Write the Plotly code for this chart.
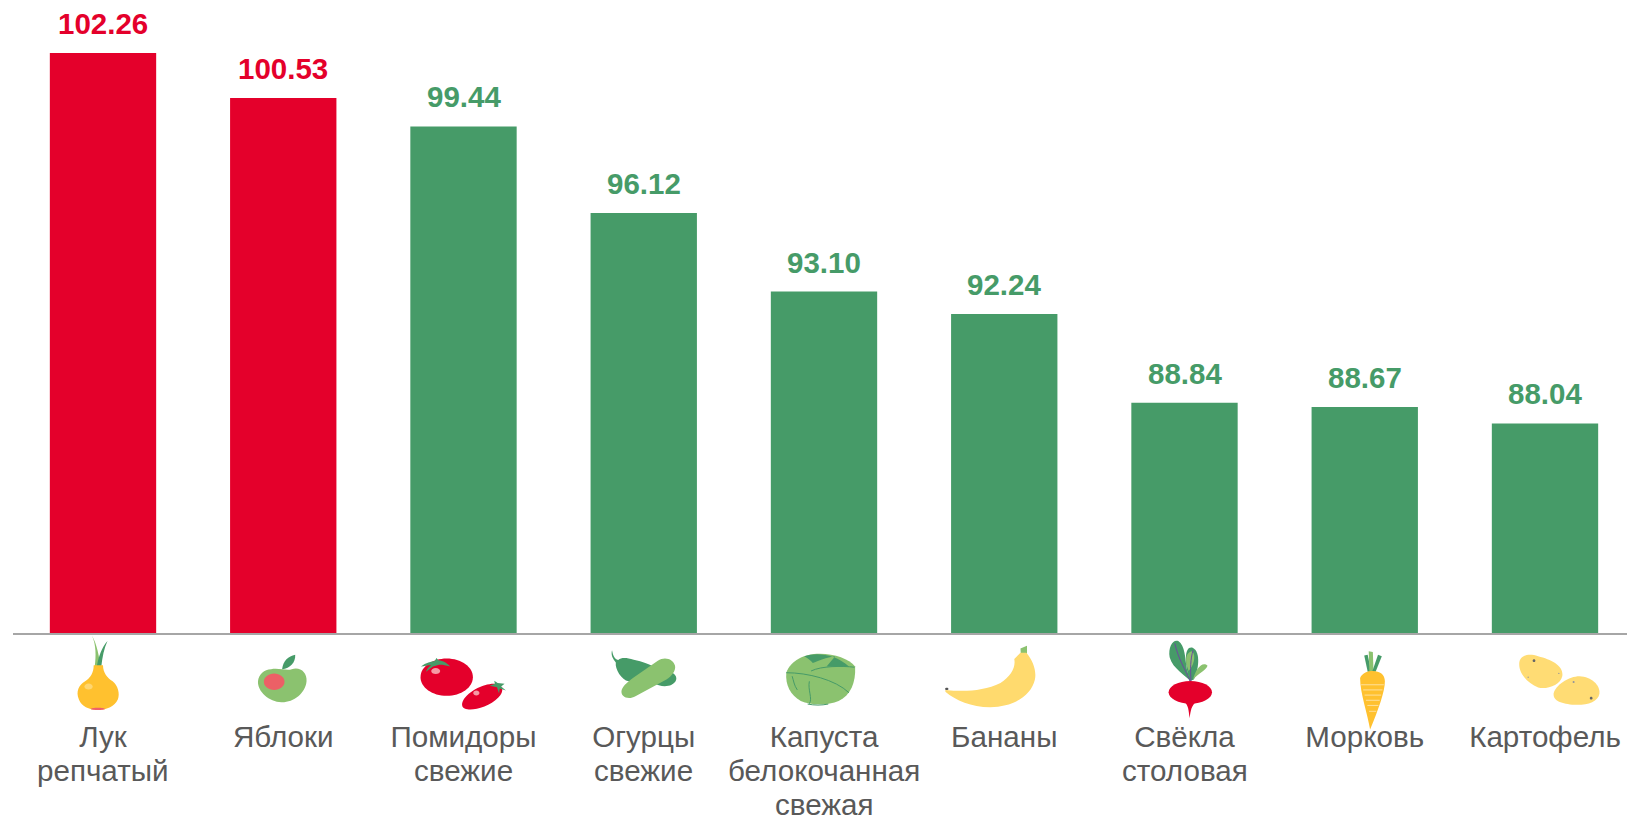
import re
import plotly.graph_objects as go

categories = ["Лук репчатый", "Яблоки", "Помидоры свежие", "Огурцы свежие",
              "Капуста белокочанная свежая", "Бананы", "Свёкла столовая", "Морковь", "Картофель"]
label_lines = [["Лук", "репчатый"], ["Яблоки"], ["Помидоры", "свежие"], ["Огурцы", "свежие"],
               ["Капуста", "белокочанная", "свежая"], ["Бананы"], ["Свёкла", "столовая"], ["Морковь"], ["Картофель"]]
values = [102.26, 100.53, 99.44, 96.12, 93.10, 92.24, 88.84, 88.67, 88.04]
value_labels = ["102.26", "100.53", "99.44", "96.12", "93.10", "92.24", "88.84", "88.67", "88.04"]
RED, GREEN, LIGHT, YEL, POT = "#E4002B", "#469B68", "#8BC26F", "#FFC12F", "#FFDC74"
bar_colors = [RED, RED] + [GREEN] * 7

W, H = 1627, 816
LEFT, BASE, STEP, FIRST = 13, 633.5, 180.25, 103
PX_PER_UNIT = 26.08
Y0 = 80
ZOOM = 1568 / 540
FONT = "Liberation Sans"
LABEL_SIZE = 29.6
LINE_GAP = 33.8
FIRST_LINE_CENTER = 737

def ell(cx, cy, rx, ry):
    k = 0.5523
    return (f"M{cx-rx} {cy} C{cx-rx} {cy-k*ry} {cx-k*rx} {cy-ry} {cx} {cy-ry} "
            f"C{cx+k*rx} {cy-ry} {cx+rx} {cy-k*ry} {cx+rx} {cy} "
            f"C{cx+rx} {cy+k*ry} {cx+k*rx} {cy+ry} {cx} {cy+ry} "
            f"C{cx-k*rx} {cy+ry} {cx-rx} {cy+k*ry} {cx-rx} {cy} Z")

NOFILL = "rgba(0,0,0,0)"
crop1, crop2, crop3 = 30, 570, 1087
icons = [
 (0, crop1, [
   (LIGHT, None, "M180 32 C192 60 192 90 188 122 L205 122 C200 90 195 60 180 32 Z"),
   (GREEN, None, "M225 48 C208 68 200 90 194 122 L207 122 C210 95 215 70 225 48 Z"),
   (YEL, None, "M185 118 L212 118 C212 140 225 155 240 165 C255 178 262 200 255 218 C245 238 225 248 197 248 C170 248 150 238 142 218 C132 195 142 175 160 165 C175 155 185 140 185 118 Z"),
   ("#FFD670", None, ell(170, 180, 12, 9)),
   ("#F0606A", None, ell(197, 245, 20, 3)),
 ]),
 (1, crop1, [
   (LIGHT, None, "M700 130 C720 125 745 135 760 130 C785 122 805 140 803 165 C800 200 765 227 730 226 C695 225 660 195 662 165 C664 145 680 130 700 130 Z"),
   ("#EC6066", None, ell(709, 166, 30, 24)),
   (GREEN, None, "M732 130 C735 105 750 92 770 88 C772 110 755 128 732 130 Z"),
 ]),
 (2, crop1, [
   (RED, None, ell(1210, 153, 76, 54)),
   (RED, None, "M1255 228 C1265 195 1320 170 1350 172 C1375 175 1378 195 1360 212 C1335 238 1290 250 1270 246 C1258 245 1253 238 1255 228 Z"),
   (GREEN, None, "M1135 122 C1150 110 1165 108 1176 105 L1180 97 L1186 104 C1200 105 1212 113 1220 122 C1205 118 1195 116 1188 117 L1170 122 L1150 137 C1152 128 1158 122 1165 118 C1155 118 1145 120 1135 122 Z"),
   (GREEN, None, "M1335 178 L1350 172 L1348 163 L1358 170 L1378 172 L1368 180 L1382 192 L1364 186 L1362 200 L1356 182 Z"),
   ("#F59AA5", None, ell(1178, 135, 13, 9)),
   ("#F59AA5", None, ell(1296, 199, 9, 7)),
 ]),
 (3, crop2, [
   (GREEN, None, "M122 75 C125 90 128 100 140 103 C150 95 165 97 185 102 C210 108 235 115 245 125 L295 140 C312 145 315 165 295 175 C280 182 260 180 240 170 L170 165 C150 160 130 130 133 110 C125 100 118 90 122 75 Z"),
   (LIGHT, None, "M150 190 C155 175 170 165 190 150 L255 105 C275 92 300 100 305 120 C308 135 295 150 280 160 L190 208 C170 220 145 210 150 190 Z"),
 ]),
 (4, crop2, [
   (LIGHT, None, "M628 140 C640 105 680 85 725 85 C770 85 810 100 828 122 C830 170 815 205 780 222 C750 235 700 235 670 222 C640 205 625 175 628 140 Z"),
   (GREEN, None, "M680 92 C715 80 770 85 810 122 L745 122 L770 92 C745 95 720 105 705 112 C700 105 690 97 680 92 Z"),
   (NOFILL, GREEN, "M628 140 C690 140 770 160 810 198"),
   (NOFILL, GREEN, "M700 135 C730 120 790 120 826 124"),
   (NOFILL, GREEN, "M695 230 C705 215 690 190 695 165"),
   (NOFILL, GREEN, "M660 190 C650 175 650 165 645 150"),
   (NOFILL, GREEN, "M690 231 C710 235 730 235 750 231"),
 ]),
 (5, crop2, [
   (LIGHT, None, "M1308 70 L1327 62 L1327 85 L1309 85 Z"),
   ("#FFDA6E", None, "M1090 190 C1140 195 1200 195 1250 170 C1280 150 1295 125 1290 100 L1308 82 L1325 82 C1345 105 1355 135 1350 160 C1340 205 1290 240 1220 240 C1165 240 1120 220 1090 195 Z"),
   ("#555555", None, ell(1094, 187, 5, 3)),
 ]),
 (6, crop3, [
   (GREEN, None, "M300 165 C285 145 250 130 240 95 C235 65 250 42 265 48 C285 60 285 100 290 130 Z"),
   (GREEN, None, "M298 165 C280 100 285 60 308 68 C330 80 325 130 310 160 Z"),
   (LIGHT, None, "M295 135 C280 100 290 80 305 78 C318 90 310 120 295 135 Z"),
   (LIGHT, None, "M308 160 C315 130 335 105 350 120 C345 135 325 140 308 160 Z"),
   (NOFILL, "#6E4A9E", "M300 165 C285 130 265 100 255 55"),
   (NOFILL, "#6E4A9E", "M302 165 C300 130 300 100 308 75"),
   (RED, None, ell(300, 197, 63, 33)),
   (RED, None, "M283 225 C295 235 295 250 298 272 C301 250 303 235 317 225 Z"),
 ]),
 (7, crop3, [
   (GREEN, None, "M815 137 L805 90 L815 88 L825 137 Z"),
   (LIGHT, None, "M820 137 L818 78 L830 80 L832 137 Z"),
   (GREEN, None, "M828 137 L845 88 L856 92 L838 137 Z"),
   (YEL, None, "M793 155 C800 140 815 135 830 135 C850 135 865 145 865 165 C865 195 845 250 822 305 C815 260 793 200 793 155 Z"),
   (NOFILL, "#FFE09A", "M796 175 L862 175"),
   (NOFILL, "#FFE09A", "M802 190 L858 190"),
   (NOFILL, "#FFE09A", "M806 205 L854 205"),
   (NOFILL, "#FFE09A", "M810 220 L850 220"),
   (NOFILL, "#FFE09A", "M814 235 L846 235"),
   (NOFILL, "#FFE09A", "M819 252 L840 252"),
 ]),
 (8, crop3, [
   (POT, None, "M1255 115 C1255 90 1280 82 1310 92 C1350 102 1385 120 1380 150 C1375 175 1335 190 1310 183 C1280 170 1255 145 1255 115 Z"),
   (POT, None, "M1355 200 C1360 175 1400 150 1430 150 C1465 152 1490 175 1488 200 C1485 225 1450 235 1415 233 C1380 230 1352 222 1355 200 Z"),
   ("#666666", None, ell(1298, 105, 4, 4)),
   ("#666666", None, ell(1464, 214, 4, 4)),
   ("#999999", None, ell(1370, 142, 2, 2)),
   ("#999999", None, ell(1281, 153, 2, 2)),
   ("#999999", None, ell(1413, 167, 3, 3)),
 ]),
]

def convert(path, idx, crop_x):
    tokens = re.findall(r"[MLCZ]|-?[\d.]+", path)
    out, is_x = [], True
    for t in tokens:
        if t in "MLCZ":
            out.append(t)
            is_x = True
        else:
            v = float(t)
            if is_x:
                out.append(f"{crop_x + v / ZOOM - (FIRST + STEP * idx):.2f}")
            else:
                out.append(f"{BASE - (625 + v / ZOOM):.2f}")
            is_x = not is_x
    return " ".join(out)

shapes = []
for idx, crop_x, parts in icons:
    for fill, stroke, path in parts:
        shapes.append(dict(
            type="path", xref="x", yref="paper",
            xsizemode="pixel", ysizemode="pixel",
            xanchor=categories[idx], yanchor=0,
            path=convert(path, idx, crop_x),
            fillcolor=fill, layer="above",
            line=dict(width=1 if stroke else 0, color=stroke or NOFILL),
        ))

annotations = [
    dict(x=c, y=v, xref="x", yref="y", text=f"<b>{t}</b>", showarrow=False,
         yanchor="bottom", yshift=11, font=dict(size=29.5, color=col, family=FONT))
    for c, v, t, col in zip(categories, values, value_labels, bar_colors)
]
# continuation lines of the category labels (the reference sets them tighter than a tick label can)
for c, lines in zip(categories, label_lines):
    for n, line in enumerate(lines[1:], start=1):
        annotations.append(dict(
            x=c, y=0, xref="x", yref="paper", text=line, showarrow=False, yanchor="middle",
            yshift=BASE - FIRST_LINE_CENTER - n * LINE_GAP,
            font=dict(size=LABEL_SIZE, color="#595959", family=FONT)))

fig = go.Figure(go.Bar(x=categories, y=values, marker=dict(color=bar_colors, line=dict(width=0)),
                       hoverinfo="skip"))
fig.update_layout(
    width=W, height=H, margin=dict(l=LEFT, r=0, t=0, b=H - BASE),
    paper_bgcolor="white", plot_bgcolor="white", showlegend=False, bargap=0.41,
    shapes=shapes, annotations=annotations,
    font=dict(family=FONT, color="#595959"),
)
fig.update_xaxes(type="category", categoryorder="array", categoryarray=categories,
                 range=[-(FIRST - LEFT) / STEP, (W - FIRST) / STEP],
                 tickmode="array", tickvals=categories, ticktext=[l[0] for l in label_lines],
                 showline=True, linecolor="#A6A6A6", linewidth=1.5, showgrid=False, zeroline=False,
                 ticks="", tickfont=dict(size=LABEL_SIZE, color="#595959", family=FONT),
                 ticklabelstandoff=77, tickangle=0, ticklabeloverflow="allow")
fig.update_yaxes(range=[Y0, Y0 + BASE / PX_PER_UNIT], visible=False)
fig.write_html("out.html", config=dict(displayModeBar=False),
               post_script="document.body.style.margin='0';document.body.style.overflow='hidden';")
